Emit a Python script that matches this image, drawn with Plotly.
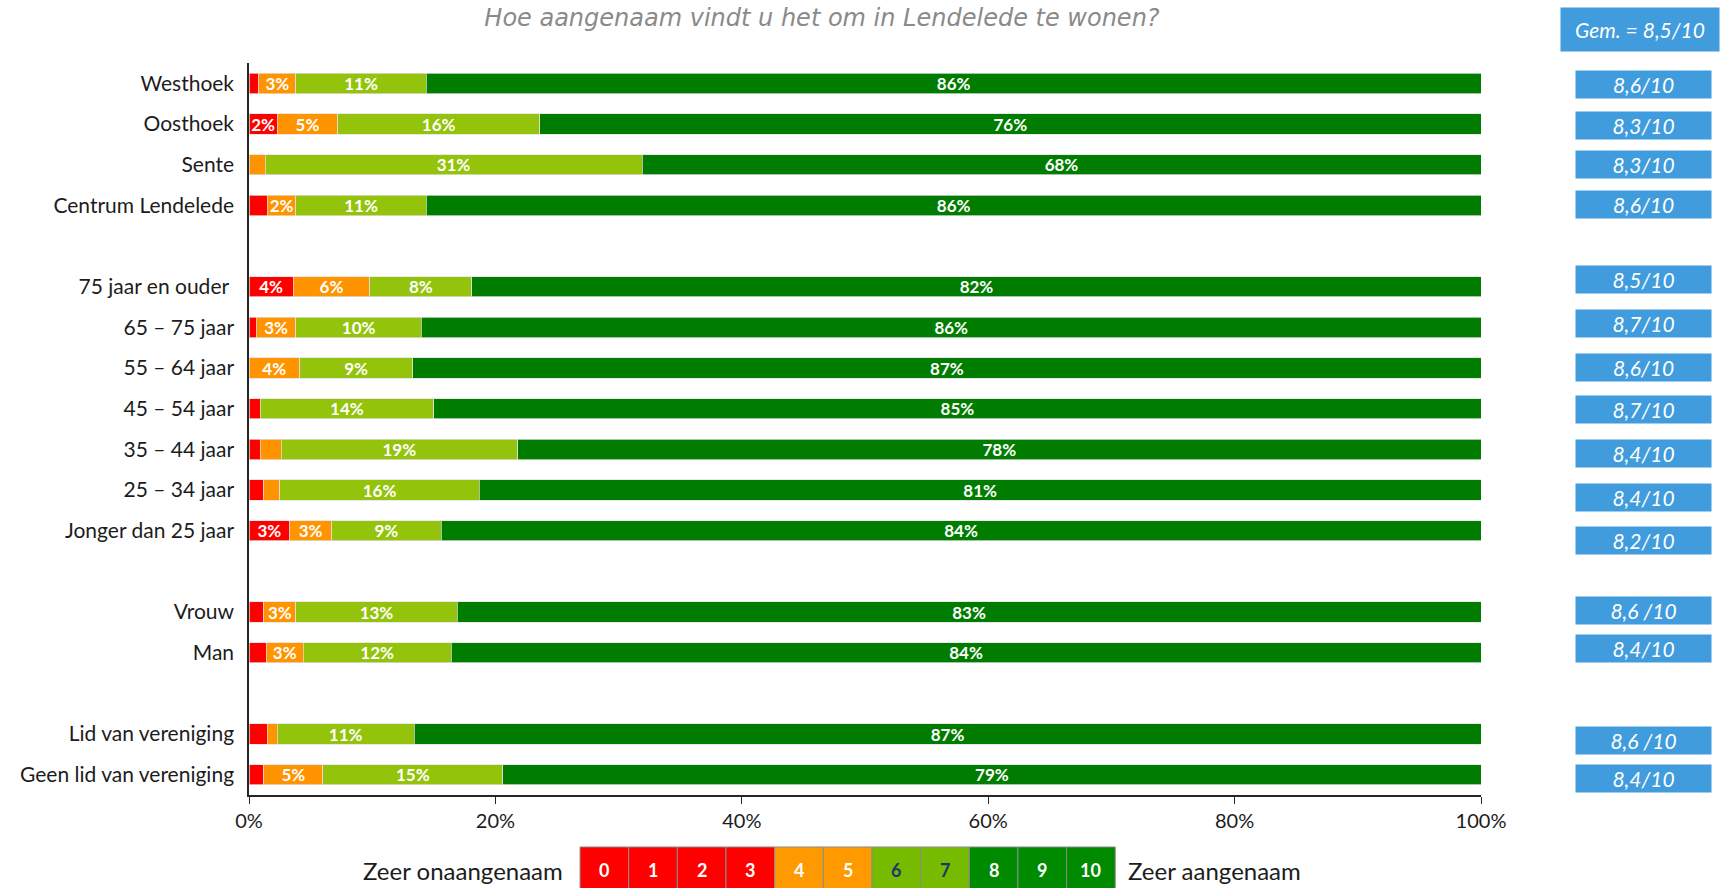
import plotly.graph_objects as go

title = "Hoe aangenaam vindt u het om in Lendelede te wonen?"

groups = [
    ["Westhoek", "Oosthoek", "Sente", "Centrum Lendelede"],
    ["75 jaar en ouder ", "65 – 75 jaar", "55 – 64 jaar", "45 – 54 jaar",
     "35 – 44 jaar", "25 – 34 jaar", "Jonger dan 25 jaar"],
    ["Vrouw", "Man"],
    ["Lid van vereniging", "Geen lid van vereniging"],
]

# share of answers per score band (%), same row order as groups
score_0_3 = [0.8, 2.3, 0.0, 1.5, 3.6, 0.6, 0.0, 0.9, 0.9, 1.2, 3.3, 1.2, 1.4, 1.5, 1.2]
score_4_5 = [3.0, 4.9, 1.3, 2.3, 6.2, 3.2, 4.1, 0.0, 1.7, 1.3, 3.4, 2.6, 3.0, 0.8, 4.8]
score_6_7 = [10.6, 16.4, 30.6, 10.6, 8.3, 10.2, 9.2, 14.1, 19.2, 16.2, 8.9, 13.1, 12.0, 11.1, 14.6]
score_8_10 = [85.6, 76.4, 68.1, 85.6, 81.9, 86.0, 86.7, 85.0, 78.2, 81.3, 84.4, 83.1, 83.6, 86.6, 79.4]

averages = ["8,6/10", "8,3/10", "8,3/10", "8,6/10",
            "8,5/10", "8,7/10", "8,6/10", "8,7/10", "8,4/10", "8,4/10", "8,2/10",
            "8,6 /10", "8,4/10",
            "8,6 /10", "8,4/10"]
overall_average = "Gem. = 8,5/10"

x_ticks = [0, 20, 40, 60, 80, 100]
x_tick_labels = ["0%", "20%", "40%", "60%", "80%", "100%"]

scale_labels = ["0", "1", "2", "3", "4", "5", "6", "7", "8", "9", "10"]
scale_left = "Zeer onaangenaam"
scale_right = "Zeer aangenaam"

band_colors = ["#FF0000", "#FF9400", "#94C30B", "#007D00"]
scale_colors = ["#FF0000"] * 4 + ["#FF9900"] * 2 + ["#77BB00"] * 2 + ["#008A00"] * 3
scale_text_colors = ["white"] * 6 + ["#1F3864"] * 2 + ["white"] * 3

# the score boxes were placed by hand in the original, not exactly on the bars
box_yshift = [-1, -1, 0, 1, 7, 4, 1, -1, -4, -7, -10, 2, 4, -6, -4]

FONT = "Lato"
TEXT = "#1c1c1c"
BOX_BLUE = "#409CDC"

# build the y categories with an empty row between the groups
categories = [c for g in groups for c in g]
y_cats = []
row_index = []
k = 0
for i, g in enumerate(groups):
    if i:
        y_cats.append(" " * i)
        row_index.append(None)
    for c in g:
        y_cats.append(c)
        row_index.append(k)
        k += 1


def spread(vals):
    return [None if r is None else vals[r] for r in row_index]


fig = go.Figure()
for vals, color in zip([score_0_3, score_4_5, score_6_7, score_8_10], band_colors):
    xs = spread(vals)
    fig.add_trace(go.Bar(
        y=y_cats, x=xs, orientation="h",
        marker=dict(color=color, line=dict(color="rgba(225,225,225,0.9)", width=0.8)),
        text=[f"{v:.0f}%" if v is not None and v >= 2 else "" for v in xs],
        textposition="inside", insidetextanchor="middle", textangle=0,
        constraintext="none",
        textfont=dict(family=FONT, size=17, color="white", weight="bold"),
        hoverinfo="skip",
    ))

# average score boxes on the right
for cat, avg, dy in zip(categories, averages, box_yshift):
    fig.add_annotation(
        x=1.1322, xref="paper", y=cat, yref="y", xanchor="center", yanchor="middle",
        yshift=dy, text=avg, showarrow=False, width=135, height=27, borderpad=0,
        bgcolor=BOX_BLUE, font=dict(family=FONT, size=21, color="white", style="italic"),
    )
fig.add_annotation(
    x=1.1293, xref="paper", y=1.0464, yref="paper", xanchor="center", yanchor="middle",
    text=overall_average, showarrow=False, width=158, height=43, borderpad=0,
    bgcolor=BOX_BLUE, font=dict(family=FONT, size=21, color="white", style="italic"),
)

# colour scale legend below the chart
x0, x1 = 0.2687, 0.7031
ly = -0.103
step = (x1 - x0) / len(scale_labels)
for i, (lab, col, tcol) in enumerate(zip(scale_labels, scale_colors, scale_text_colors)):
    fig.add_shape(type="rect", xref="paper", yref="paper",
                  x0=x0 + i * step, x1=x0 + (i + 1) * step, y0=-0.071, y1=-0.14,
                  fillcolor=col, line=dict(color="#8c8c8c", width=1), layer="above")
    fig.add_annotation(x=x0 + (i + 0.5) * step, xref="paper", y=ly, yref="paper",
                       xanchor="center", yanchor="middle",
                       text=f"<b>{lab}</b>", showarrow=False,
                       font=dict(family=FONT, size=18, color=tcol))
fig.add_annotation(x=x0 - 0.012, xref="paper", y=ly, yref="paper",
                   xanchor="right", yanchor="middle",
                   text=scale_left, showarrow=False,
                   font=dict(family=FONT, size=24, color=TEXT))
fig.add_annotation(x=x1 + 0.009, xref="paper", y=ly, yref="paper",
                   xanchor="left", yanchor="middle",
                   text=scale_right, showarrow=False,
                   font=dict(family=FONT, size=24, color=TEXT))

fig.update_layout(
    width=1725, height=888,
    barmode="stack", bargap=0.5, showlegend=False,
    plot_bgcolor="white", paper_bgcolor="white",
    margin=dict(l=249, r=244, t=63, b=93),
    title=dict(text=title, x=0.4765, xanchor="center", y=0.9805, yanchor="middle",
               font=dict(family="DejaVu Sans", size=24, color="#8a8a8a", style="italic")),
    xaxis=dict(range=[0, 100], tickvals=x_ticks, ticktext=x_tick_labels,
               showgrid=False, zeroline=False, showline=True, linecolor="#262626",
               linewidth=1.5, ticks="outside", ticklen=7, tickcolor="#262626",
               tickfont=dict(family=FONT, size=20, color=TEXT)),
    yaxis=dict(type="category", categoryorder="array", categoryarray=y_cats,
               autorange="reversed", showgrid=False, zeroline=False, showline=True,
               linecolor="#262626", linewidth=1.5, ticks="", ticklabelstandoff=9,
               tickfont=dict(family=FONT, size=21, color=TEXT)),
)

# drop the default 8px page margin so the figure fills the window exactly
fig.write_html("out.html", config={"displayModeBar": False},
               post_script="document.body.style.margin = '0';")
